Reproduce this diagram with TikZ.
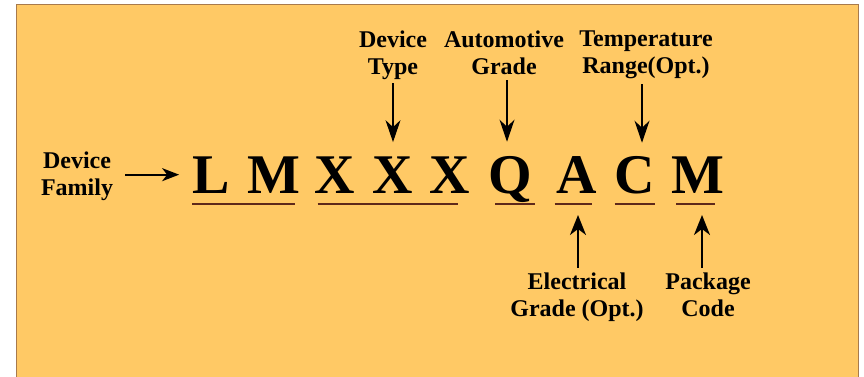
\documentclass[tikz,border=0pt]{standalone}
\usepackage{fontspec}
\setmainfont{Liberation Serif}[BoldFont={Liberation Serif Bold}]
\newfontfamily\lblfont{Liberation Serif Bold}
\usetikzlibrary{arrows.meta}
\definecolor{bgfill}{HTML}{FFC965}
\definecolor{bgedge}{HTML}{A87A4C}
\definecolor{uline}{HTML}{5E281A}
\begin{document}
\begin{tikzpicture}[x=1pt,y=-1pt,
  lbl/.style={font=\lblfont\fontsize{24}{27}\selectfont, align=center, inner sep=0pt, anchor=north},
  big/.style={font=\lblfont\fontsize{56}{60}\selectfont, inner sep=0pt, anchor=base},
  arr/.style={-{Stealth[length=22pt,width=15pt,inset=7pt]}, line width=1.1pt},
  arrup/.style={-{Stealth[length=20pt,width=16pt,inset=6pt]}, line width=2pt},
  arrl/.style={-{Stealth[length=17pt,width=13pt,inset=5pt]}, line width=2pt},
  ul/.style={draw=uline, line width=1.3pt}]
\useasboundingbox (0,0) rectangle (864,376);
\fill[white] (0,0) rectangle (864,376);
\draw[fill=bgfill, draw=bgedge, line width=1.6pt] (16.5,4.5) rectangle (858.5,380);
% big letters
\node[big] (L)  at (211,193) {L};
\node[big] (M1) at (274,193) {M};
\node[big] (X1) at (335,193) {X};
\node[big] (X2) at (393,193) {X};
\node[big] (X3) at (450,193) {X};
\node[big] (Q)  at (510,193) {Q};
\node[big] (A)  at (577,193) {A};
\node[big] (C)  at (635,193) {C};
\node[big] (M2) at (698,193) {M};
% underlines
\draw[ul] ([yshift=-11pt]L.base west) -- ([yshift=-11pt,xshift=-6pt]M1.base east);
\draw[ul] ([yshift=-11pt,xshift=3pt]X1.base west) -- ([yshift=-11pt,xshift=-12pt]X3.base east);
\draw[ul] ([yshift=-11pt,xshift=7pt]Q.base west) -- ([yshift=-11pt,xshift=3pt]Q.base east);
\draw[ul] ([yshift=-11pt,xshift=-2pt]A.base west) -- ([yshift=-11pt,xshift=-5pt]A.base east);
\draw[ul] ([yshift=-11pt]C.base west) -- ([yshift=-11pt]C.base east);
\draw[ul] ([yshift=-11pt,xshift=5pt]M2.base west) -- ([yshift=-11pt,xshift=-10pt]M2.base east);
% labels
\node[lbl] (fam)  at (77,151.5)  {Device\\Family};
\node[lbl] (typ)  at (393,30.5)  {Device\\Type};
\node[lbl] (auto) at (504,31)    {Automotive\\Grade};
\node[lbl] (temp) at (646,31)    {Temperature\\Range(Opt.)};
\node[lbl] (elec) at (577,272.5) {Electrical\\Grade (Opt.)};
\node[lbl] (pkg)  at (708,272.5) {Package\\Code};
% arrows
\draw[arrl, shorten <=12pt, shorten >=13pt] (fam.east |- L.west) -- (L.west);
\draw[arr, shorten <=3.5pt, shorten >=14pt] (typ.south) -- (typ.south |- X2.north);
\draw[arr, shorten <=5pt, shorten >=14pt] ([xshift=3pt]auto.south) -- ([xshift=3pt]auto.south |- Q.north);
\draw[arr, shorten <=5pt, shorten >=13pt] ([xshift=-4pt]temp.south) -- ([xshift=-4pt]temp.south |- C.north);
\draw[arrup, shorten <=5pt, shorten >=22pt] ([xshift=1pt]elec.north) -- ([xshift=1pt]elec.north |- A.base);
\draw[arrup, shorten <=5pt, shorten >=22pt] ([xshift=4pt]M2.base |- pkg.north) -- ([xshift=4pt]M2.base);
\end{tikzpicture}
\end{document}
